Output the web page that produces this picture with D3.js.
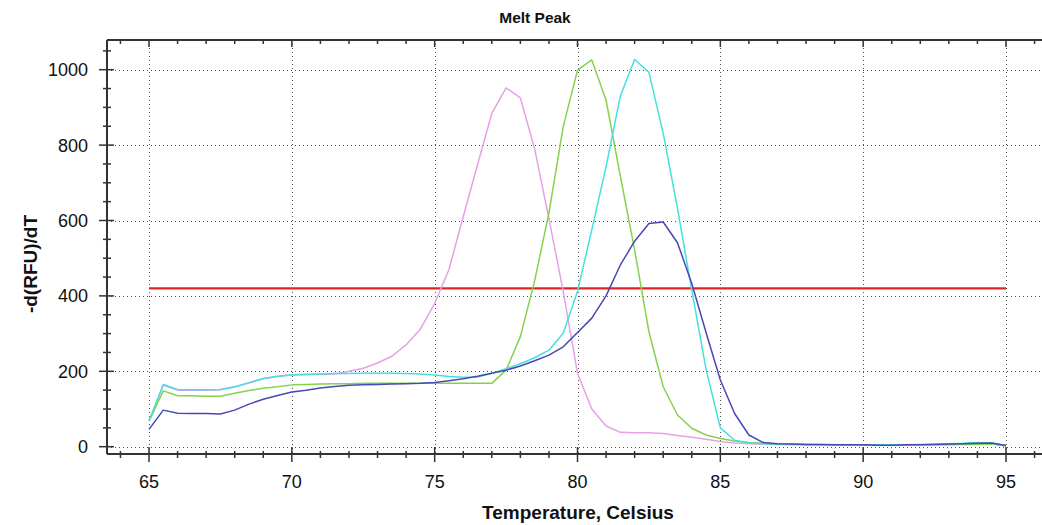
<!DOCTYPE html>
<html>
<head>
<meta charset="utf-8">
<script src="https://cdn.jsdelivr.net/npm/d3@7/dist/d3.min.js"></script>
<style>
  html, body { margin: 0; padding: 0; background: #fff; }
  svg { display: block; font-family: "Liberation Sans", Arial, sans-serif; }
</style>
</head>
<body>
<svg id="chart" width="1042" height="525"></svg>
<script>
// ---- data ----
const temps = d3.range(65, 95.001, 0.5).map(d => +d.toFixed(1));
const blueVals = [46, 97, 89, 88, 88, 87, 97, 113, 126, 136, 145, 150, 156, 160, 163, 164, 165, 166, 167, 168,
  170, 175, 180, 187, 195, 203, 214, 228, 243, 265, 303, 341, 400, 482, 545, 592, 596, 541, 433, 303,
  177, 88, 31, 11, 8, 7, 6, 6, 5, 5, 5, 4, 4, 5, 5, 6, 7, 8, 9, 10, 3];
const cyanVals = [68, 165, 152, 151, 151, 152, 159, 170, 181, 187, 191, 192, 193, 194, 194, 195, 195, 195, 194, 193,
  190, 186, 184, 185, 195, 207, 220, 236, 256, 301, 412, 575, 743, 930, 1027, 993, 831, 632, 415, 205,
  50, 17, 10, 8, 7, 7, 6, 6, 5, 5, 5, 5, 5, 5, 6, 7, 8, 9, 11, 10, 3];
const pinkVals = [68, 163, 150, 150, 150, 151, 158, 169, 180, 186, 190, 191, 192, 193, 200, 208, 222, 240, 270, 312,
  380, 470, 610, 748, 884, 952, 925, 790, 605, 412, 195, 100, 55, 38, 37, 37, 35, 30, 25, 20,
  14, 10, 8, 7, 6, 6, 5, 5, 5, 4, 4, 4, 5, 5, 5, 6, 6, 7, 8, 8, 2];
const greenVals = [68, 148, 135, 135, 134, 134, 142, 149, 155, 159, 164, 165, 166, 167, 167, 168, 168, 168, 168, 168,
  168, 168, 168, 168, 168, 203, 292, 440, 620, 849, 999, 1026, 919, 718, 522, 305, 159, 84, 49, 31,
  22, 15, 11, 9, 7, 6, 6, 5, 5, 5, 4, 4, 4, 4, 5, 5, 5, 6, 6, 7, 2];
const threshold = 420;
const xTicks = [65, 70, 75, 80, 85, 90, 95];
const yTicks = [0, 200, 400, 600, 800, 1000];
const seriesColors = ["#e6a1e6", "#86d24a", "#44e0e0", "#4848b6"];
const seriesData = [pinkVals, greenVals, cyanVals, blueVals];

// ---- layout ----
const svg = d3.select("#chart");
const x = d3.scaleLinear().domain([65, 95]).range([149, 1006]);
const y = d3.scaleLinear().domain([0, 1000]).range([446.7, 69.7]);
const pLeft = 107, pTop = 40, pBottom = 454, pRight = 1042;

// grid
const grid = svg.append("g").attr("stroke", "#555").attr("stroke-width", 1).attr("stroke-dasharray", "1,3");
grid.selectAll("line.v").data(xTicks).join("line")
  .attr("x1", d => Math.round(x(d)) + 0.5).attr("x2", d => Math.round(x(d)) + 0.5)
  .attr("y1", pTop).attr("y2", pBottom);
grid.selectAll("line.h").data(yTicks).join("line")
  .attr("x1", pLeft).attr("x2", pRight)
  .attr("y1", d => Math.round(y(d)) + 0.5).attr("y2", d => Math.round(y(d)) + 0.5);

// frame
const axisColor = "#333";
const frame = svg.append("g").attr("stroke", axisColor).attr("stroke-width", 2);
frame.append("line").attr("x1", pLeft).attr("x2", pLeft).attr("y1", pTop).attr("y2", pBottom);
frame.append("line").attr("x1", pLeft).attr("x2", pRight).attr("y1", pTop).attr("y2", pTop);
frame.append("line").attr("x1", pLeft).attr("x2", pRight).attr("y1", pBottom).attr("y2", pBottom);

// x ticks
const xMinor = d3.range(64, 97, 1).filter(d => !xTicks.includes(d));
const tk = svg.append("g").attr("stroke", axisColor).attr("stroke-width", 1.5);
tk.selectAll("line.xb").data(xTicks).join("line")
  .attr("x1", d => x(d)).attr("x2", d => x(d)).attr("y1", pBottom - 7).attr("y2", pBottom + 8);
tk.selectAll("line.xbm").data(xMinor).join("line")
  .attr("x1", d => x(d)).attr("x2", d => x(d)).attr("y1", pBottom - 3).attr("y2", pBottom + 4);
tk.selectAll("line.xt").data(xTicks).join("line")
  .attr("x1", d => x(d)).attr("x2", d => x(d)).attr("y1", pTop).attr("y2", pTop + 7);
tk.selectAll("line.xtm").data(xMinor).join("line")
  .attr("x1", d => x(d)).attr("x2", d => x(d)).attr("y1", pTop).attr("y2", pTop + 4);
// y ticks
const yMinor = d3.range(50, 1100, 50).filter(d => !yTicks.includes(d));
tk.selectAll("line.y").data(yTicks).join("line")
  .attr("x1", pLeft - 8).attr("x2", pLeft + 7).attr("y1", d => y(d)).attr("y2", d => y(d));
tk.selectAll("line.ym").data(yMinor).join("line")
  .attr("x1", pLeft - 4).attr("x2", pLeft + 4).attr("y1", d => y(d)).attr("y2", d => y(d));

// tick labels
svg.append("g").selectAll("text").data(xTicks).join("text")
  .attr("x", d => x(d)).attr("y", 488).attr("text-anchor", "middle")
  .attr("font-size", 18).attr("fill", "#111").text(d => d);
svg.append("g").selectAll("text").data(yTicks).join("text")
  .attr("x", 88).attr("y", d => y(d) + 6.5).attr("text-anchor", "end")
  .attr("font-size", 18).attr("fill", "#111").text(d => d);

// threshold
svg.append("line").attr("x1", x(65)).attr("x2", x(95))
  .attr("y1", y(threshold)).attr("y2", y(threshold))
  .attr("stroke", "#e02424").attr("stroke-width", 2.2);

// series
const line = d3.line().x((d, i) => x(temps[i])).y(d => y(d));
svg.append("g").selectAll("path").data(seriesData).join("path")
  .attr("d", d => line(d))
  .attr("fill", "none")
  .attr("stroke", (d, i) => seriesColors[i])
  .attr("stroke-width", 1.5)
  .attr("stroke-linejoin", "round");

// titles
svg.append("text").attr("x", 535).attr("y", 23).attr("text-anchor", "middle")
  .attr("font-size", 15.5).attr("font-weight", "bold").attr("fill", "#111").text("Melt Peak");
svg.append("text").attr("x", 578).attr("y", 519).attr("text-anchor", "middle")
  .attr("font-size", 19).attr("font-weight", "bold").attr("fill", "#111").text("Temperature, Celsius");
svg.append("text").attr("transform", "translate(37,264) rotate(-90)").attr("text-anchor", "middle")
  .attr("font-size", 19).attr("font-weight", "bold").attr("fill", "#111").text("-d(RFU)/dT");
</script>
</body>
</html>
